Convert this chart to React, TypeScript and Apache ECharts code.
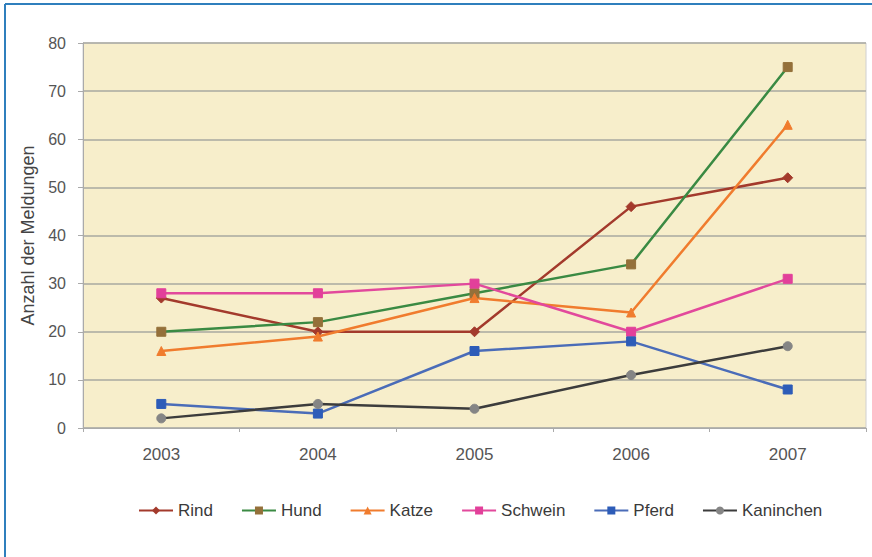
import React, { useEffect, useRef } from "react";
import * as echarts from "echarts";

const years = ["2003", "2004", "2005", "2006", "2007"];
const rind = [27, 20, 20, 46, 52];
const hund = [20, 22, 28, 34, 75];
const katze = [16, 19, 27, 24, 63];
const schwein = [28, 28, 30, 20, 31];
const pferd = [5, 3, 16, 18, 8];
const kaninchen = [2, 5, 4, 11, 17];

const seriesDefs = [
  { name: "Rind", data: rind, line: "#a33a2c", marker: "#a33a2c", symbol: "diamond", size: 10 },
  { name: "Hund", data: hund, line: "#3a8a43", marker: "#94703a", symbol: "rect", size: 9 },
  { name: "Katze", data: katze, line: "#f07c2e", marker: "#f07c2e", symbol: "triangle", size: 9 },
  { name: "Schwein", data: schwein, line: "#e2499c", marker: "#e2409a", symbol: "rect", size: 9 },
  { name: "Pferd", data: pferd, line: "#4a6cb8", marker: "#2d5cb8", symbol: "rect", size: 9 },
  { name: "Kaninchen", data: kaninchen, line: "#3c3c3c", marker: "#858585", symbol: "circle", size: 9 },
];

export default function App() {
  const ref = useRef<HTMLDivElement>(null);
  useEffect(() => {
    const chart = echarts.init(ref.current!, null, { renderer: "svg" });
    chart.setOption({
      animation: false,
      backgroundColor: "#ffffff",
      textStyle: { fontFamily: "Liberation Sans, Arial, sans-serif" },
      graphic: [
        { type: "line", shape: { x1: 5, y1: 4, x2: 872, y2: 4 }, style: { stroke: "#2f7fbd", lineWidth: 2 } },
        { type: "line", shape: { x1: 5, y1: 4, x2: 5, y2: 557 }, style: { stroke: "#2f7fbd", lineWidth: 2 } },
      ],
      grid: {
        left: 83,
        top: 43,
        right: 6,
        bottom: 129,
        show: true,
        backgroundColor: "#f7eecb",
        borderColor: "#d0d0d0",
        borderWidth: 1,
      },
      legend: {
        bottom: 33,
        left: 133,
        itemGap: 28,
        itemWidth: 34,
        itemHeight: 10,
        textStyle: { fontSize: 17, color: "#3a3a3a" },
        data: seriesDefs.map((s) => s.name),
      },
      xAxis: {
        type: "category",
        data: years,
        boundaryGap: true,
        axisLine: { lineStyle: { color: "#aaaaaa" } },
        axisTick: { show: true, length: 4, lineStyle: { color: "#aaaaaa" } },
        axisLabel: { color: "#555", fontSize: 17, margin: 18 },
      },
      yAxis: {
        type: "value",
        min: 0,
        max: 80,
        interval: 10,
        name: "Anzahl der Meldungen",
        nameLocation: "middle",
        nameGap: 42,
        nameTextStyle: { color: "#444", fontSize: 18 },
        axisLine: { show: true, lineStyle: { color: "#aaaaaa" } },
        axisTick: { show: true, length: 5, lineStyle: { color: "#aaaaaa" } },
        axisLabel: { color: "#555", fontSize: 16, margin: 17 },
        splitLine: { lineStyle: { color: "#a8a8a0", width: 1.5 } },
      },
      series: seriesDefs.map((s) => ({
        name: s.name,
        type: "line",
        data: s.data,
        symbol: s.symbol,
        symbolSize: s.size,
        showSymbol: true,
        lineStyle: { color: s.line, width: 2.5 },
        itemStyle: { color: s.marker, borderColor: s.marker },
      })),
    });
    return () => chart.dispose();
  }, []);
  return <div ref={ref} style={{ position: "absolute", left: 0, top: 0, width: 872, height: 557 }} />;
}
